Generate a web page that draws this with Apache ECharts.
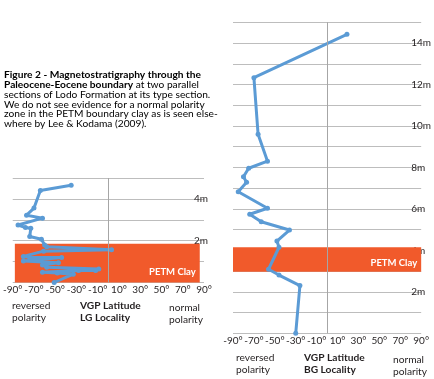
<!DOCTYPE html>
<html>
<head>
<meta charset="utf-8">
<script src="https://cdn.jsdelivr.net/npm/echarts@6/dist/echarts.min.js"></script>
<style>
html, body { margin: 0; padding: 0; background: #fff; }
#chart { width: 434px; height: 379px; }
</style>
</head>
<body>
<div id="chart"></div>
<script>
// LG locality (left panel), from top of section downwards
var lgLat   = [-35, -64, -70, -77, -62, -85, -78, -73, -74, -63, -60, -58, 3, -61, -80, -74, -44, -80, -47, -62, -58, -9, -12, -28, -62, -48, -33, -51];
var lgDepth = [4.65, 4.4, 3.56, 3.22, 3.08, 2.75, 2.63, 2.6, 2.2, 2.07, 1.8, 1.71, 1.57, 1.5, 1.25, 1.2, 1.2, 1.03, 0.95, 0.84, 0.73, 0.65, 0.57, 0.57, 0.49, 0.46, 0.4, 0];
// BG locality (right panel)
var bgLat   = [19, -70, -66, -57, -75, -80, -77, -85, -57, -74, -63, -36, -48, -46, -56, -46, -26, -30];
var bgDepth = [14.42, 12.33, 9.6, 8.3, 7.96, 7.55, 7.28, 6.83, 6.03, 5.74, 5.38, 4.98, 4.45, 4.15, 3.09, 2.81, 2.3, 0];
var latLabels = [-90, -70, -50, -30, -10, 10, 30, 50, 70, 90];
var lgClay = [[-88, 0], [86, 1.85]];
var bgClay = [[-90, 2.97], [90, 4.15]];

var blue = '#5b9bd5';
var clay = '#f15a2b';
var gridGray = '#bdbdbd';
var txt = '#231f20';

function pairs(lat, depth) {
    return lat.map(function (v, i) { return [v, depth[i]]; });
}

function xAxisFor(gi) {
    return {
        type: 'value', gridIndex: gi, min: -90, max: 90, interval: 10,
        axisLine: { show: false }, axisTick: { show: false }, splitLine: { show: false },
        axisLabel: {
            showMinLabel: true, showMaxLabel: true, margin: 2,
            fontFamily: 'Lato', fontSize: 10, color: txt,
            formatter: function (v) { return latLabels.indexOf(v) >= 0 ? v + '°' : ''; }
        }
    };
}

function yAxisFor(gi, max) {
    return {
        type: 'value', gridIndex: gi, position: 'right', min: 0, max: max, interval: 1,
        axisLine: { show: false }, axisTick: { show: false },
        splitLine: { show: true, lineStyle: { color: gridGray, width: 1 } },
        axisLabel: {
            margin: -10, fontFamily: 'Lato', fontSize: 10, color: txt,
            formatter: function (v) { return (v > 0 && v % 2 === 0) ? v + 'm' : ''; }
        }
    };
}

function clayBand(gi, area, dy) {
    return {
        type: 'line', xAxisIndex: gi, yAxisIndex: gi, data: [], z: -1, silent: true,
        markArea: {
            silent: true,
            itemStyle: { color: clay },
            label: {
                show: true, position: 'insideRight', distance: 4, offset: [0, dy], color: '#fff',
                fontFamily: 'Lato', fontWeight: 'bold', fontSize: 9.5, formatter: 'PETM Clay'
            },
            data: [[{ coord: area[0] }, { coord: area[1] }]]
        }
    };
}

function profile(gi, lat, depth) {
    return {
        type: 'line', xAxisIndex: gi, yAxisIndex: gi, data: pairs(lat, depth),
        symbol: 'circle', symbolSize: 5,
        itemStyle: { color: blue }, lineStyle: { color: blue, width: 3 },
        markLine: {
            silent: true, symbol: 'none', label: { show: false },
            lineStyle: { color: '#a6a6a6', width: 1, type: 'solid' },
            data: [{ xAxis: 0 }]
        }
    };
}

var capStyle = { fontFamily: 'Lato', fontSize: 10.2, lineHeight: 9.8, color: txt };
var capBold = Object.assign({}, capStyle, { fontWeight: 'bold' });

function smallText(x, y, s, bold) {
    return {
        type: 'text', left: x, top: y,
        style: { text: s, fontFamily: 'Lato', fontSize: 10.2, lineHeight: 11.5, fill: txt, fontWeight: bold ? 'bold' : 'normal' }
    };
}

var myChart = echarts.init(document.getElementById('chart'));
var option = {
    animation: false,
    grid: [
        { left: 8, right: 230, top: 178, bottom: 96.5 },
        { left: 233, right: 11, top: 22.3, bottom: 45.7 }
    ],
    xAxis: [xAxisFor(0), xAxisFor(1)],
    yAxis: [yAxisFor(0, 5), yAxisFor(1, 15)],
    series: [
        clayBand(0, lgClay, 9),
        clayBand(1, bgClay, 3),
        profile(0, lgLat, lgDepth),
        profile(1, bgLat, bgDepth)
    ],
    graphic: [
        {
            type: 'text', left: 4, top: 70,
            style: {
                text: '{b|Figure 2 - Magnetostratigraphy through the}\n' +
                      '{b|Paleocene-Eocene boundary}{r| at two parallel}\n' +
                      '{r|sections of Lodo Formation at its type section.}\n' +
                      '{r|We do not see evidence for a normal polarity}\n' +
                      '{r|zone in the PETM boundary clay as is seen else-}\n' +
                      '{r|where by Lee & Kodama (2009).}',
                rich: { b: capBold, r: capStyle }
            }
        },
        smallText(12, 300, 'reversed\npolarity', false),
        smallText(80, 300, 'VGP Latitude\nLG Locality', true),
        smallText(169, 302, 'normal\npolarity', false),
        smallText(236, 352, 'reversed\npolarity', false),
        smallText(304, 352, 'VGP Latitude\nBG Locality', true),
        smallText(393, 354, 'normal\npolarity', false)
    ]
};
myChart.setOption(option);
</script>
</body>
</html>
